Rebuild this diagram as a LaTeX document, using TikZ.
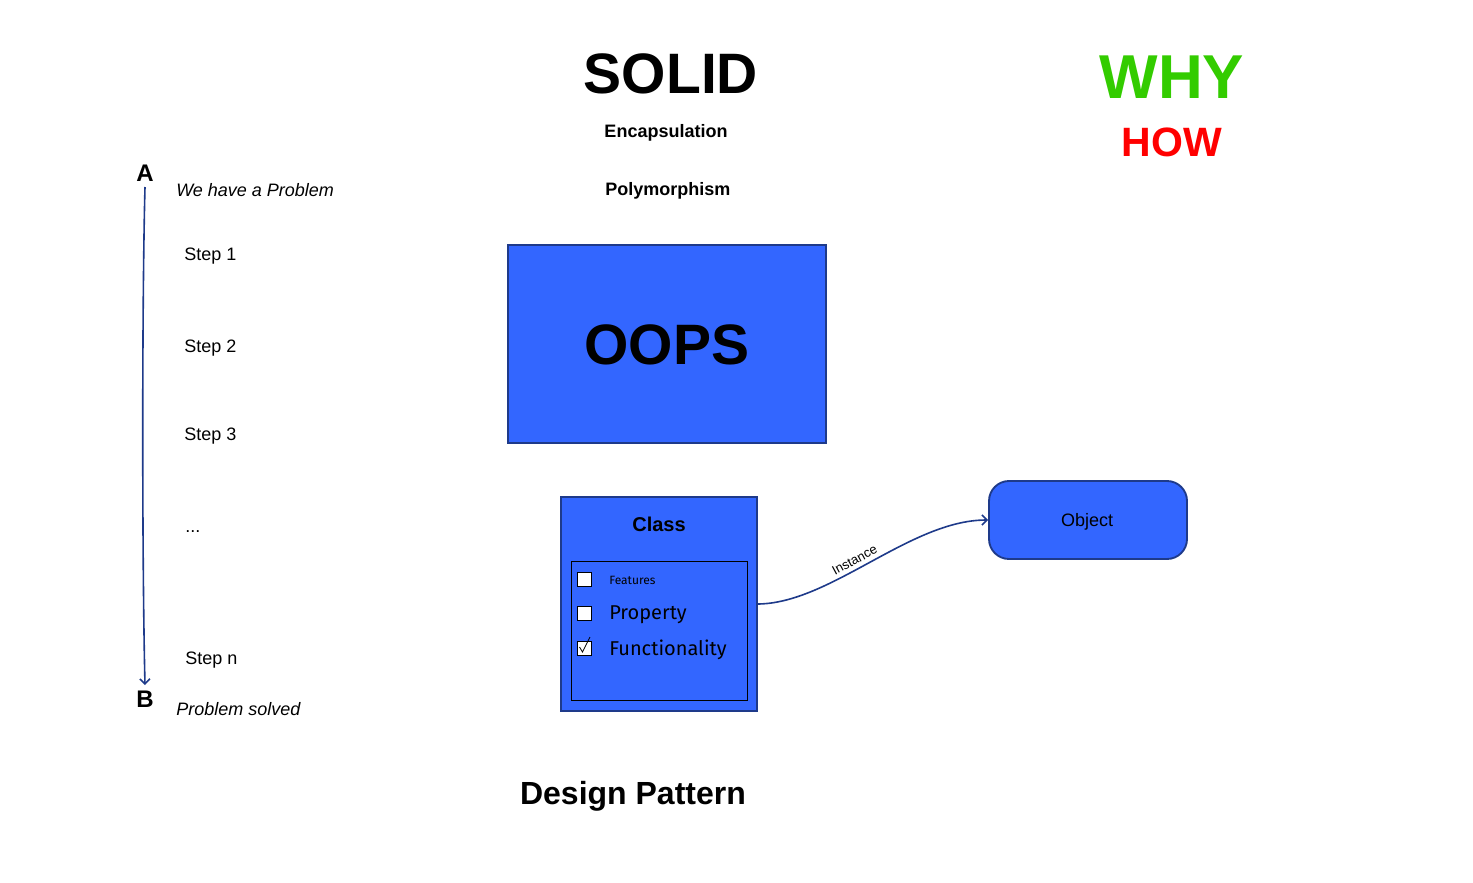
\documentclass[tikz,border=0pt]{standalone}
\usepackage{fontspec}
\setmainfont{Liberation Sans}
\newfontfamily\handfont{Fira Sans}
\usetikzlibrary{arrows.meta}
\definecolor{boxfill}{HTML}{3366FF}
\definecolor{boxline}{HTML}{1E3A8A}
\definecolor{whygreen}{HTML}{33CC00}
\definecolor{howred}{HTML}{FF0000}
% font size given in image pixels (1 px = 0.75 pt)
\newcommand{\px}[1]{\fontsize{\fpeval{#1*0.75}}{\fpeval{#1*0.9}}\selectfont}
\tikzset{
  bluebox/.style={draw=boxline, fill=boxfill, line width=1.4pt},
  label/.style={inner sep=0pt, anchor=west, text=black},
  tick/.style={draw=black, fill=white, line width=0.45pt, minimum size=10.5pt, inner sep=0pt},
  conn/.style={draw=boxline, line width=1.2pt, -{Straight Barb[length=3.75pt,width=7.5pt]}},
}
\begin{document}
\begin{tikzpicture}[x=0.75pt, y=-0.75pt]
\useasboundingbox (0,0) rectangle (1473,882);

% A -> B timeline
\node[font=\bfseries\px{24}] (A) at (145,173) {A};
\node[font=\bfseries\px{24}] (B) at (145,699) {B};
\coordinate (a0) at (145,187);
\coordinate (b0) at (145,685);
\draw[conn] (a0) .. controls (142,300) and (142,560) .. (b0);

\node[label, font=\itshape\px{18}] (prob) at (176,190) {We have a Problem};
\node[label, font=\px{18}] (s1) at (184,256) {Step 1};
\node[label, font=\px{18}] (s2) at (184,348) {Step 2};
\node[label, font=\px{18}] (s3) at (184,436) {Step 3};
\node[label, font=\px{18}] (dots) at (185,532) {...};
\node[label, font=\px{18}] (sn) at (185,660) {Step n};
\node[label, font=\itshape\px{18}] (solved) at (176,709) {Problem solved};

% headings
\node[font=\bfseries\px{57}] (solid) at (671,74) {SOLID};
\node[font=\bfseries\px{18}] (enc) at (666,133) {Encapsulation};
\node[label, font=\bfseries\px{18}] (poly) at (605,191) {Polymorphism};
\node[font=\bfseries\px{62}, text=whygreen] (why) at (1172,77) {WHY};
\node[font=\bfseries\px{41}, text=howred] (how) at (1172,142) {HOW};
\node[font=\bfseries\px{32}] (dp) at (633,796) {Design Pattern};

% OOPS block
\draw[bluebox] (508,245) rectangle (826,443);
\node[font=\bfseries\px{57}] (oops) at (667,345) {OOPS};

% class card
\draw[bluebox] (561,497) rectangle (757,711);
\coordinate (classR) at (757,604);
\node[font=\bfseries\px{20}] (cls) at (659,524) {Class};
\draw[black, line width=0.6pt] (571,561) rectangle (747,700);
\node[tick] (c1) at (584,579) {};
\node[tick] (c2) at (584,613) {};
\node[tick] (c3) at (584,648) {};
\draw[black, line width=0.6pt] (579.5,647) -- (582.5,652) -- (590,637);
\node[label, font=\handfont\px{12}] (f1) at (609,580) {Features};
\node[label, font=\handfont\px{20}] (f2) at (609,615) {Property};
\node[label, font=\handfont\px{20}] (f3) at (609,650) {Functionality};

% object
\node[bluebox, rounded corners=15pt, minimum width=148.5pt, minimum height=58.5pt, inner sep=0pt, font=\px{18}] (obj) at (1088,520) {};
\node[font=\px{18}] (objtext) at (1087,522) {Object};

\draw[conn] (classR) .. controls (830,604) and (910,520) .. (obj.west)
  node[pos=0.45, sloped, above, font=\px{13}, inner sep=3pt] (inst) {Instance};
\end{tikzpicture}
\end{document}
